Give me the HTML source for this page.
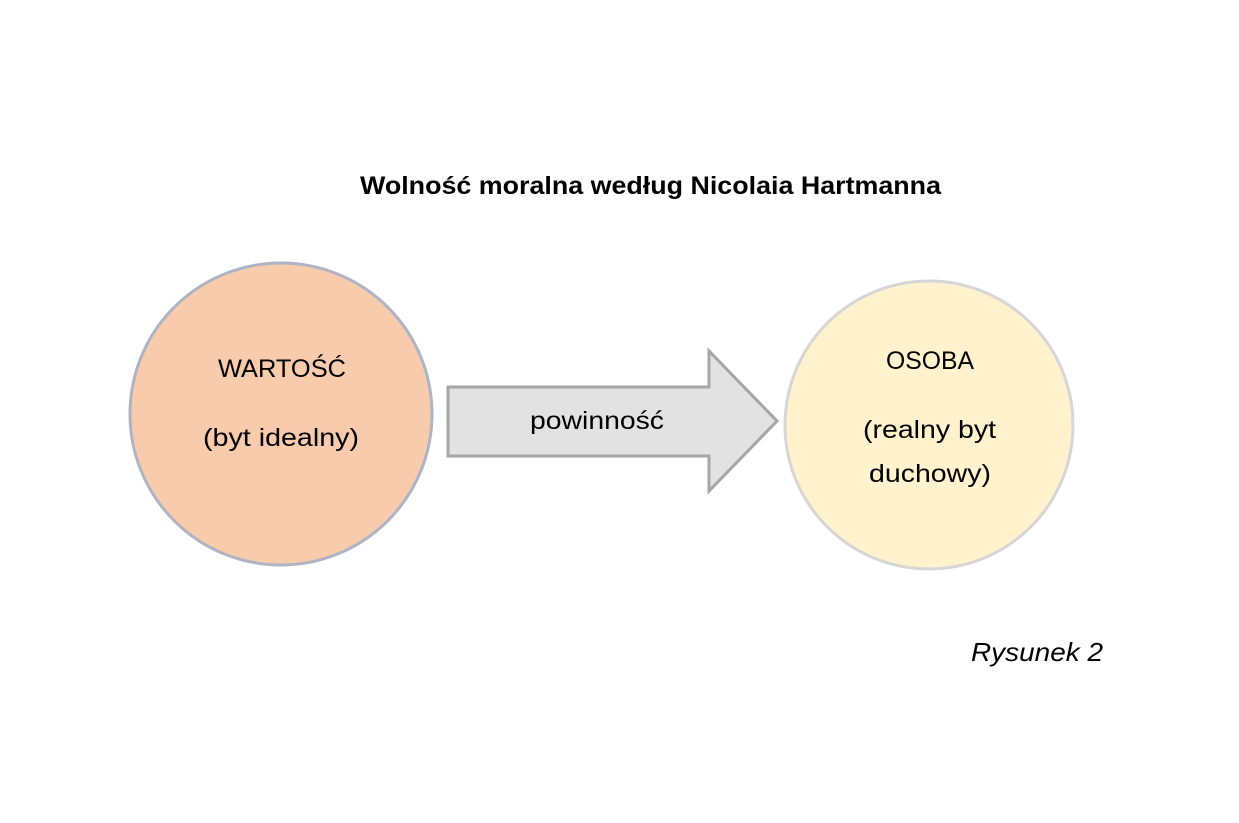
<!DOCTYPE html>
<html><head><meta charset="utf-8"><style>
html,body{margin:0;padding:0;background:#fff;}
body{width:1239px;height:823px;overflow:hidden;position:relative;font-family:"Liberation Sans",sans-serif;}
</style></head><body>
<svg width="1239" height="823" viewBox="0 0 1239 823" xmlns="http://www.w3.org/2000/svg" style="position:absolute;left:0;top:0">
<text x="360" y="194" textLength="581" lengthAdjust="spacingAndGlyphs" font-family="Liberation Sans, sans-serif" font-weight="bold" font-size="25" fill="#000">Wolność moralna według Nicolaia Hartmanna</text>
<circle cx="281" cy="414" r="151" fill="#f7cbac" stroke="#aeb4c4" stroke-width="3"/>
<circle cx="929" cy="425" r="144" fill="#fff2cc" stroke="#d6d6d6" stroke-width="3"/>
<polygon points="448,387 709,387 709,351 777,421 709,491 709,456 448,456" fill="#e2e2e2" stroke="#a6a6a6" stroke-width="3"/>
<g font-family="Liberation Sans, sans-serif" font-size="25" fill="#000" lengthAdjust="spacingAndGlyphs">
<text x="218" y="377" textLength="128" lengthAdjust="spacingAndGlyphs">WARTOŚĆ</text>
<text x="203" y="446" textLength="156" lengthAdjust="spacingAndGlyphs">(byt idealny)</text>
<text x="530" y="429" textLength="134" lengthAdjust="spacingAndGlyphs">powinność</text>
<text x="886" y="369" textLength="88" lengthAdjust="spacingAndGlyphs">OSOBA</text>
<text x="863" y="438" textLength="133" lengthAdjust="spacingAndGlyphs">(realny byt</text>
<text x="869" y="482" textLength="122" lengthAdjust="spacingAndGlyphs">duchowy)</text>
<text x="971" y="661" textLength="132" lengthAdjust="spacingAndGlyphs" font-style="italic" font-size="26">Rysunek 2</text>
</g>
</svg>
</body></html>
